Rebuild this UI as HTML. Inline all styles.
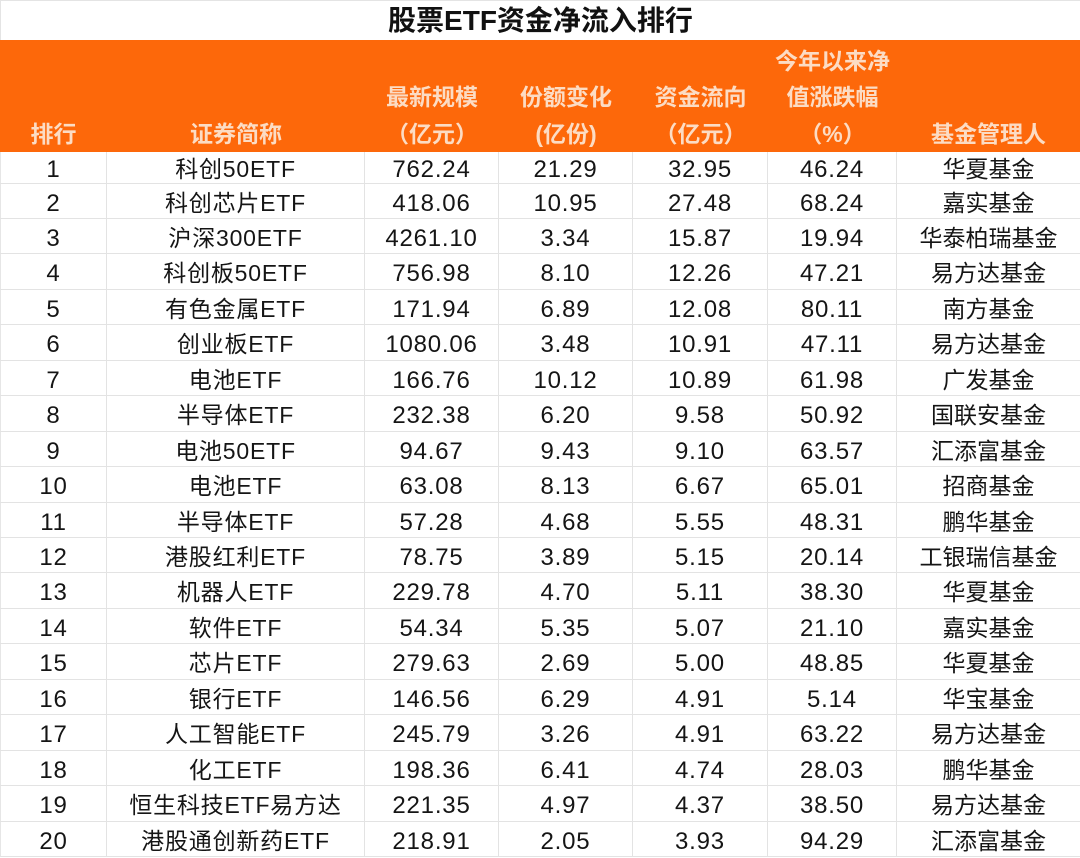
<!DOCTYPE html>
<html>
<head>
<meta charset="utf-8">
<style>
*{margin:0;padding:0;box-sizing:border-box;}
html,body{width:1080px;height:858px;background:#fff;overflow:hidden;}
body{position:relative;font-family:"Liberation Sans","Noto Sans CJK SC",sans-serif;color:#151515;}
.title{position:absolute;left:0;top:0;width:1080px;height:40px;line-height:40px;text-align:center;font-size:28px;font-weight:bold;color:#111;border-top:1px solid #e4e4e4;border-left:1px solid #e4e4e4;}
.head{position:absolute;left:0;top:40px;width:1080px;height:112px;background:#fd680a;}
.hc{position:absolute;bottom:0;text-align:center;color:#fcdcc4;font-size:23px;font-weight:bold;line-height:36.5px;}
.row{position:absolute;left:0;width:1080px;border-bottom:1px solid #e3e3e3;display:flex;}
.c{height:100%;text-align:center;font-size:23px;border-right:1px solid #e3e3e3;white-space:nowrap;padding-top:2px;}
.c:last-child{border-right:none;}
.n{letter-spacing:0.8px;font-size:24px;}
.c1{width:107px;border-left:1px solid #e6e6e6;}
.c2{width:258px;letter-spacing:0.8px;}
.c3{width:134px;}
.c4{width:134px;}
.c5{width:135px;}
.c6{width:129px;}
.c7{width:183px;}
</style>
</head>
<body>
<div class="title">股票ETF资金净流入排行</div>
<div class="head">
  <div class="hc" style="left:0;width:107px;">排行</div>
  <div class="hc" style="left:107px;width:258px;">证券简称</div>
  <div class="hc" style="left:365px;width:134px;">最新规模<br>（亿元）</div>
  <div class="hc" style="left:499px;width:134px;">份额变化<br>(亿份)</div>
  <div class="hc" style="left:633px;width:135px;">资金流向<br>（亿元）</div>
  <div class="hc" style="left:768px;width:129px;">今年以来净<br>值涨跌幅<br>（%）</div>
  <div class="hc" style="left:897px;width:183px;">基金管理人</div>
</div>

<div class="row" style="top:152px;height:31.5px;line-height:31.5px;"><div class="c c1 n">1</div><div class="c c2">科创50ETF</div><div class="c c3 n">762.24</div><div class="c c4 n">21.29</div><div class="c c5 n">32.95</div><div class="c c6 n">46.24</div><div class="c c7">华夏基金</div></div>
<div class="row" style="top:183.5px;height:35.45px;line-height:35.45px;"><div class="c c1 n">2</div><div class="c c2">科创芯片ETF</div><div class="c c3 n">418.06</div><div class="c c4 n">10.95</div><div class="c c5 n">27.48</div><div class="c c6 n">68.24</div><div class="c c7">嘉实基金</div></div>
<div class="row" style="top:218.95px;height:35.45px;line-height:35.45px;"><div class="c c1 n">3</div><div class="c c2">沪深300ETF</div><div class="c c3 n">4261.10</div><div class="c c4 n">3.34</div><div class="c c5 n">15.87</div><div class="c c6 n">19.94</div><div class="c c7">华泰柏瑞基金</div></div>
<div class="row" style="top:254.4px;height:35.45px;line-height:35.45px;"><div class="c c1 n">4</div><div class="c c2">科创板50ETF</div><div class="c c3 n">756.98</div><div class="c c4 n">8.10</div><div class="c c5 n">12.26</div><div class="c c6 n">47.21</div><div class="c c7">易方达基金</div></div>
<div class="row" style="top:289.85px;height:35.45px;line-height:35.45px;"><div class="c c1 n">5</div><div class="c c2">有色金属ETF</div><div class="c c3 n">171.94</div><div class="c c4 n">6.89</div><div class="c c5 n">12.08</div><div class="c c6 n">80.11</div><div class="c c7">南方基金</div></div>
<div class="row" style="top:325.3px;height:35.45px;line-height:35.45px;"><div class="c c1 n">6</div><div class="c c2">创业板ETF</div><div class="c c3 n">1080.06</div><div class="c c4 n">3.48</div><div class="c c5 n">10.91</div><div class="c c6 n">47.11</div><div class="c c7">易方达基金</div></div>
<div class="row" style="top:360.75px;height:35.45px;line-height:35.45px;"><div class="c c1 n">7</div><div class="c c2">电池ETF</div><div class="c c3 n">166.76</div><div class="c c4 n">10.12</div><div class="c c5 n">10.89</div><div class="c c6 n">61.98</div><div class="c c7">广发基金</div></div>
<div class="row" style="top:396.2px;height:35.45px;line-height:35.45px;"><div class="c c1 n">8</div><div class="c c2">半导体ETF</div><div class="c c3 n">232.38</div><div class="c c4 n">6.20</div><div class="c c5 n">9.58</div><div class="c c6 n">50.92</div><div class="c c7">国联安基金</div></div>
<div class="row" style="top:431.65px;height:35.45px;line-height:35.45px;"><div class="c c1 n">9</div><div class="c c2">电池50ETF</div><div class="c c3 n">94.67</div><div class="c c4 n">9.43</div><div class="c c5 n">9.10</div><div class="c c6 n">63.57</div><div class="c c7">汇添富基金</div></div>
<div class="row" style="top:467.1px;height:35.45px;line-height:35.45px;"><div class="c c1 n">10</div><div class="c c2">电池ETF</div><div class="c c3 n">63.08</div><div class="c c4 n">8.13</div><div class="c c5 n">6.67</div><div class="c c6 n">65.01</div><div class="c c7">招商基金</div></div>
<div class="row" style="top:502.55px;height:35.45px;line-height:35.45px;"><div class="c c1 n">11</div><div class="c c2">半导体ETF</div><div class="c c3 n">57.28</div><div class="c c4 n">4.68</div><div class="c c5 n">5.55</div><div class="c c6 n">48.31</div><div class="c c7">鹏华基金</div></div>
<div class="row" style="top:538px;height:35.45px;line-height:35.45px;"><div class="c c1 n">12</div><div class="c c2">港股红利ETF</div><div class="c c3 n">78.75</div><div class="c c4 n">3.89</div><div class="c c5 n">5.15</div><div class="c c6 n">20.14</div><div class="c c7">工银瑞信基金</div></div>
<div class="row" style="top:573.45px;height:35.45px;line-height:35.45px;"><div class="c c1 n">13</div><div class="c c2">机器人ETF</div><div class="c c3 n">229.78</div><div class="c c4 n">4.70</div><div class="c c5 n">5.11</div><div class="c c6 n">38.30</div><div class="c c7">华夏基金</div></div>
<div class="row" style="top:608.9px;height:35.45px;line-height:35.45px;"><div class="c c1 n">14</div><div class="c c2">软件ETF</div><div class="c c3 n">54.34</div><div class="c c4 n">5.35</div><div class="c c5 n">5.07</div><div class="c c6 n">21.10</div><div class="c c7">嘉实基金</div></div>
<div class="row" style="top:644.35px;height:35.45px;line-height:35.45px;"><div class="c c1 n">15</div><div class="c c2">芯片ETF</div><div class="c c3 n">279.63</div><div class="c c4 n">2.69</div><div class="c c5 n">5.00</div><div class="c c6 n">48.85</div><div class="c c7">华夏基金</div></div>
<div class="row" style="top:679.8px;height:35.45px;line-height:35.45px;"><div class="c c1 n">16</div><div class="c c2">银行ETF</div><div class="c c3 n">146.56</div><div class="c c4 n">6.29</div><div class="c c5 n">4.91</div><div class="c c6 n">5.14</div><div class="c c7">华宝基金</div></div>
<div class="row" style="top:715.25px;height:35.45px;line-height:35.45px;"><div class="c c1 n">17</div><div class="c c2">人工智能ETF</div><div class="c c3 n">245.79</div><div class="c c4 n">3.26</div><div class="c c5 n">4.91</div><div class="c c6 n">63.22</div><div class="c c7">易方达基金</div></div>
<div class="row" style="top:750.7px;height:35.45px;line-height:35.45px;"><div class="c c1 n">18</div><div class="c c2">化工ETF</div><div class="c c3 n">198.36</div><div class="c c4 n">6.41</div><div class="c c5 n">4.74</div><div class="c c6 n">28.03</div><div class="c c7">鹏华基金</div></div>
<div class="row" style="top:786.15px;height:35.45px;line-height:35.45px;"><div class="c c1 n">19</div><div class="c c2">恒生科技ETF易方达</div><div class="c c3 n">221.35</div><div class="c c4 n">4.97</div><div class="c c5 n">4.37</div><div class="c c6 n">38.50</div><div class="c c7">易方达基金</div></div>
<div class="row" style="top:821.6px;height:35.45px;line-height:35.45px;"><div class="c c1 n">20</div><div class="c c2">港股通创新药ETF</div><div class="c c3 n">218.91</div><div class="c c4 n">2.05</div><div class="c c5 n">3.93</div><div class="c c6 n">94.29</div><div class="c c7">汇添富基金</div></div>
</body>
</html>
